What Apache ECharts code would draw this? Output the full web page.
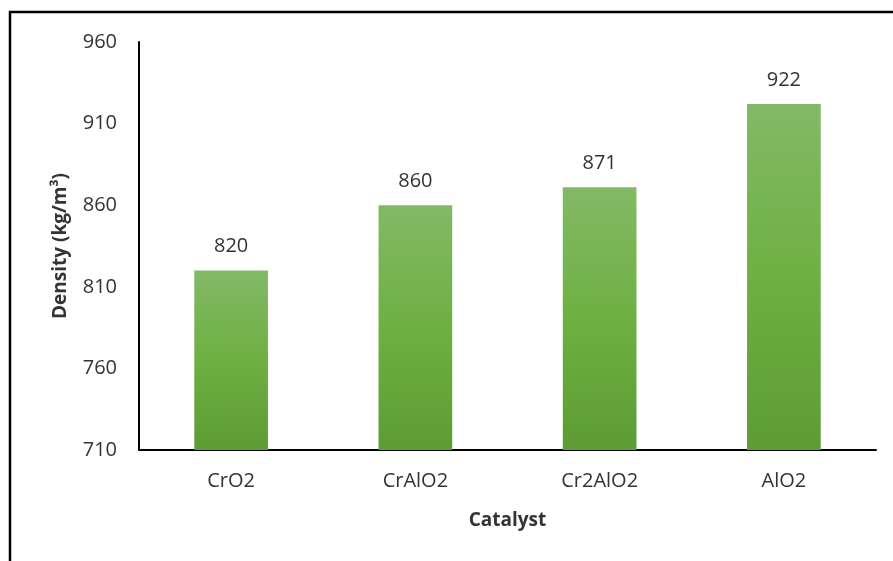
<!DOCTYPE html>
<html>
<head>
<meta charset="utf-8">
<script src="https://cdn.jsdelivr.net/npm/echarts@6/dist/echarts.min.js"></script>
<style>
  html, body { margin: 0; padding: 0; background: #fff; }
  #chart { width: 893px; height: 561px; }
</style>
</head>
<body>
<div id="chart"></div>
<script>
// Catalyst names along the x axis
const categories = ['CrO2', 'CrAlO2', 'Cr2AlO2', 'AlO2'];
// Measured density for each catalyst (kg/m³)
const density = [820, 860, 871, 922];
// Value axis range and step
const yMin = 710;
const yMax = 960;
const yStep = 50;

const fontFamily = '"Open Sans", "Liberation Sans", sans-serif';
const textColor = '#333333';

const chart = echarts.init(document.getElementById('chart'), null, { renderer: 'canvas' });

chart.setOption({
  animation: false,
  backgroundColor: '#ffffff',
  graphic: [
    {
      // outer frame (open at right and bottom)
      type: 'rect',
      shape: { x: 10, y: 12, width: 920, height: 600 },
      style: { fill: 'none', stroke: '#000000', lineWidth: 2.5 },
      silent: true
    }
  ],
  grid: { left: 139, right: 17, top: 42, bottom: 111 },
  xAxis: {
    type: 'category',
    data: categories,
    name: 'Catalyst',
    nameLocation: 'middle',
    nameGap: 61,
    nameTextStyle: { fontFamily, fontSize: 19, fontWeight: 'bold', color: textColor },
    axisLine: { lineStyle: { color: '#000000', width: 2 } },
    axisTick: { show: false },
    axisLabel: { fontFamily, fontSize: 20, color: textColor, margin: 21 }
  },
  yAxis: {
    type: 'value',
    min: yMin,
    max: yMax,
    interval: yStep,
    name: 'Density (kg/m³)',
    nameLocation: 'middle',
    nameGap: 69,
    nameRotate: 90,
    nameTextStyle: { fontFamily, fontSize: 19, fontWeight: 'bold', color: textColor },
    axisLine: { show: true, lineStyle: { color: '#000000', width: 2 } },
    axisTick: { show: false },
    splitLine: { show: false },
    axisLabel: { fontFamily, fontSize: 20, color: textColor, margin: 22 }
  },
  series: [
    {
      type: 'bar',
      data: density,
      barWidth: '40%',
      itemStyle: {
        color: new echarts.graphic.LinearGradient(0, 0, 0, 1, [
          { offset: 0, color: '#83b966' },
          { offset: 0.5, color: '#6eb042' },
          { offset: 1, color: '#5d9c34' }
        ])
      },
      label: {
        show: true,
        position: 'top',
        distance: 14,
        fontFamily,
        fontSize: 20,
        color: textColor
      }
    }
  ]
});
</script>
</body>
</html>
